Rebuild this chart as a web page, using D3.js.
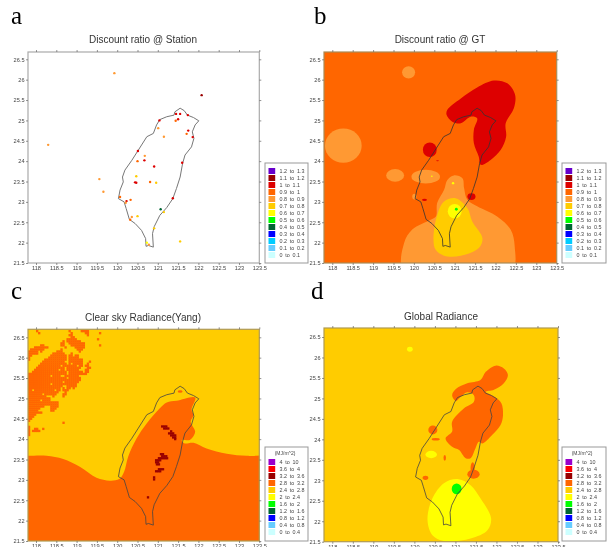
<!DOCTYPE html>
<html>
<head>
<meta charset="utf-8">
<script src="https://cdn.jsdelivr.net/npm/d3@7/dist/d3.min.js"></script>
<style>
  html, body { margin: 0; padding: 0; background: #fff; overflow: hidden; }
  svg { display: block; filter: blur(0.5px); }
</style>
</head>
<body>
<script>
// Data, everything in lon / lat
const lonTicks = [118, 118.5, 119, 119.5, 120, 120.5, 121, 121.5, 122, 122.5, 123, 123.5];
const latTicks = [21.5, 22, 22.5, 23, 23.5, 24, 24.5, 25, 25.5, 26, 26.5];

const ratioBreaks = [0.1, 0.2, 0.3, 0.4, 0.5, 0.6, 0.7, 0.8, 0.9, 1, 1.1, 1.2];
const ratioColors = ["#ccffff", "#66ccff", "#00ccff", "#0000ff", "#006633", "#00ff00", "#ffff00", "#ffcc00", "#ff9933", "#ff6600", "#dd0000", "#990000", "#6600cc"];
const ratioLabels = ["0 to 0.1", "0.1 to 0.2", "0.2 to 0.3", "0.3 to 0.4", "0.4 to 0.5", "0.5 to 0.6", "0.6 to 0.7", "0.7 to 0.8", "0.8 to 0.9", "0.9 to 1", "1 to 1.1", "1.1 to 1.2", "1.2 to 1.3"];

const radBreaks = [0.4, 0.8, 1.2, 1.6, 2, 2.4, 2.8, 3.2, 3.6, 4];
const radColors = ["#ccffff", "#66ccff", "#0000ff", "#006633", "#00ff00", "#ffff00", "#ffcc00", "#ff6600", "#990000", "#ff0000", "#9900cc"];
const radLabels = ["0 to 0.4", "0.4 to 0.8", "0.8 to 1.2", "1.2 to 1.6", "1.6 to 2", "2 to 2.4", "2.4 to 2.8", "2.8 to 3.2", "3.2 to 3.6", "3.6 to 4", "4 to 10"];

const coast = [[121.42,25.21],[121.55,25.3],[121.65,25.24],[121.73,25.13],[121.88,25.07],[122.01,24.99],[121.92,24.89],[121.85,24.72],[121.89,24.56],[121.83,24.35],[121.67,24.15],[121.61,23.94],[121.55,23.61],[121.46,23.33],[121.37,23.08],[121.22,22.86],[121.05,22.67],[120.91,22.39],[120.87,22.22],[120.89,21.89],[120.77,21.93],[120.71,21.91],[120.7,22.1],[120.6,22.3],[120.44,22.47],[120.3,22.57],[120.22,22.84],[120.17,23],[120.03,23.08],[120.07,23.29],[120.15,23.49],[120.13,23.61],[120.19,23.78],[120.36,24.02],[120.52,24.27],[120.73,24.6],[120.89,24.68],[120.97,24.89],[121.05,25.02],[121.22,25.09],[121.4,25.13]];

// lon, lat, ratio
const stations = [[119.93,26.16,0.85],[122.08,25.62,1.15],[118.3,24.4,0.85],[121.55,25.16,1.05],[121.45,25.16,1.05],[121.5,25.03,1.05],[121.44,24.99,0.95],[121.74,25.13,1.05],[121.04,25,1.05],[121.01,24.81,0.85],[121.15,24.6,0.85],[121.75,24.75,1.05],[121.71,24.67,0.95],[121.86,24.59,1.05],[120.51,24.25,1.05],[120.68,24.13,0.85],[120.67,24.02,1.05],[120.5,24,0.95],[120.91,23.87,1.05],[121.6,23.96,1.05],[120.47,23.63,0.75],[119.56,23.56,0.85],[120.44,23.48,1.05],[120.47,23.47,1.05],[120.81,23.49,0.95],[120.96,23.47,0.75],[119.66,23.25,0.85],[120.07,23.12,0.95],[120.23,23.02,1.05],[120.33,23.05,0.95],[120.21,22.98,0.85],[121.37,23.09,1.05],[121.07,22.82,0.45],[121.15,22.75,0.75],[120.36,22.63,0.85],[120.5,22.65,0.75],[120.32,22.56,0.95],[120.91,22.35,0.75],[121.55,22.03,0.75],[120.73,22,0.65],[120.78,21.95,0.85]];

// panel b zones
const gtNorthRed = [[120.82,25.26],[121.15,25.54],[121.55,25.81],[121.96,25.98],[122.29,25.91],[122.48,25.63],[122.45,25.3],[122.25,24.93],[122.26,24.6],[122.13,24.28],[121.88,24.03],[121.64,23.91],[121.59,24.11],[121.47,24.44],[121.47,24.77],[121.55,25.05],[121.39,25.09],[121.15,24.93],[120.94,24.97],[120.8,25.14]];
const gtSouthLight = [[119.76,21.3],[119.76,21.99],[119.96,22.32],[120.41,22.56],[120.54,22.64],[120.57,22.97],[120.74,23.3],[120.82,23.54],[120.98,23.65],[121.19,23.58],[121.23,23.34],[121.31,23.05],[121.55,22.89],[122.04,22.64],[122.37,22.32],[122.47,21.91],[122.39,21.3]];
const gtSouthGold = [[120.48,22.07],[120.56,22.64],[120.74,23.01],[121.02,23.09],[121.31,22.85],[121.43,22.52],[121.68,22.11],[121.59,21.87],[121.15,21.68],[120.74,21.68],[120.53,21.83]];
const gtEllipses = [
  [118.27,24.38,0.45,0.42,0.85],[119.87,26.18,0.16,0.15,0.85],[119.54,23.65,0.22,0.155,0.85],
  [120.29,23.62,0.35,0.17,0.85],[120.01,23.13,0.05,0.07,0.85],
  [120.39,24.28,0.17,0.18,1.05],[120.58,24.01,0.04,0.012,1.05],[121.41,23.13,0.1,0.085,1.05],[120.26,23.05,0.06,0.03,1.05],
  [121,22.77,0.17,0.18,0.65],[121.04,22.82,0.035,0.035,0.55],[120.96,23.46,0.03,0.03,0.65],[120.44,23.63,0.02,0.02,0.65]
];

// panel c zones
const clearSouth = [[117.5,23.59],[117.8,23.59],[118.26,23.59],[118.67,23.51],[119.08,23.32],[119.49,23.05],[119.82,22.98],[120.05,23.02],[120.17,23.2],[120.27,23.57],[120.48,24.02],[120.73,24.39],[121.05,24.76],[121.22,24.9],[121.46,24.94],[121.92,25.02],[121.83,24.72],[121.88,24.59],[121.81,24.43],[121.92,24.18],[121.79,23.98],[121.59,23.98],[121.65,23.9],[121.88,23.91],[122.2,23.77],[122.7,23.64],[123.19,23.59],[123.6,23.6],[124,23.6],[124,20.8],[117.5,20.8]];
const clearEllipses = [[121.55,25.17,0.06,0.03,3]];
// dark cells over the ridge in c, 0.05 deg each
const clearPeakCells = [
  [121.08,24.34],[121.13,24.34],[121.18,24.34],[121.13,24.29],[121.18,24.29],[121.23,24.29],
  [121.3,24.22],[121.25,24.17],[121.3,24.17],[121.35,24.17],[121.3,24.12],[121.35,24.12],[121.4,24.12],[121.35,24.07],[121.4,24.07],[121.4,24.03],
  [121.05,23.66],[121.1,23.66],[121.08,23.61],[121.13,23.61],[121.18,23.61],[121,23.56],[121.05,23.56],[121.1,23.56],[121.15,23.56],[121.2,23.56],
  [120.93,23.51],[120.98,23.51],[121.03,23.51],[120.93,23.46],[120.98,23.46],[120.95,23.41],[121,23.41],
  [121,23.29],[121.05,23.29],[121.1,23.29],[120.93,23.24],[120.98,23.24],[121.03,23.24],
  [120.88,23.09],[120.88,23.04],[120.73,22.6]
];
// patchy area top left of c, cells of 0.05 deg, # is 2.8 to 3.2
const clearPatchRows = [
  "....#...............#.....####......",
  ".....#...............#......##.....#",
  "....................##.......#......",
  ".....................##.............",
  "...................#####..........#.",
  ".................#.#######..........",
  "................##..########........",
  "......##........##...#######.......#",
  "...#######........#....#####........",
  ".#######........#.......###.........",
  "#####.#.......###........#..........",
  "#####.......######...#..............",
  "##.........########.##.##...........",
  "#.........#########.#####...........",
  "#.......###########.#######.........",
  ".......###########..#######...#.....",
  "......#############.#.#####..#......",
  ".....###########.#######.##.##......",
  "....##############.#######...##.....",
  "...############.##.######...##......",
  "..#################.#######.##......",
  "###################.#########.......",
  "###########.####..#######...........",
  "###################.######..........",
  "##########################..........",
  "#################.#######...........",
  "###########.############............",
  "#################..#####.............",
  "################.#.##.#.............",
  "##.##########.##.###................",
  "###############...#.................",
  "#######.######...##.................",
  "#########...#....#..................",
  "###########.........................",
  "######.####.........................",
  "###############.....................",
  "###############.....................",
  "########...####.....................",
  "######.....###......................",
  "#####......##.......................",
  "#######.............................",
  "####................................",
  "###.................................",
  "##..................................",
  "#...................................",
  ".................#..................",
  "....................................",
  "#...................................",
  "#..##..#............................",
  "#.####..............................",
  "#...................................",
  "#..................................."
];

// panel d zones
const globalNorth = [[120.92,25.08],[121.01,25.23],[121.29,25.37],[121.61,25.45],[121.74,25.65],[121.98,25.8],[122.18,25.73],[122.28,25.57],[122.18,25.37],[121.94,25.21],[121.74,25.16],[121.98,25.02],[122.12,24.88],[122.16,24.59],[122.1,24.35],[121.9,24.11],[121.66,23.9],[121.57,23.94],[121.49,23.78],[121.37,23.54],[121.25,23.54],[121.09,23.74],[120.92,23.82],[120.76,24.02],[120.92,24.19],[120.92,24.43],[121.21,24.76],[121.45,24.92],[121.45,25.08],[121.29,25.15],[121.13,25.04],[121.01,24.94]];
const globalSouth = [[120.32,22.03],[120.44,22.56],[120.72,22.93],[121.05,23.03],[121.37,22.88],[121.61,22.56],[121.87,22.07],[121.78,21.78],[121.37,21.58],[120.72,21.52],[120.44,21.66]];
const globalEllipses = [
  [120.45,24.23,0.11,0.11,3],[120.27,23.06,0.07,0.05,3],[121.44,23.15,0.15,0.11,3],[121.42,23.3,0.05,0.14,3],
  [120.74,23.55,0.03,0.07,3],[120.52,24,0.1,0.03,3],
  [120.41,23.63,0.14,0.09,2.2],[119.89,26.2,0.07,0.06,2.2],
  [121.03,22.79,0.12,0.13,1.8]
];

// Helpers
const svgwidth = 608;
const svgheight = 547;
const ratioColor = d3.scaleThreshold().domain(ratioBreaks).range(ratioColors);
const radColor = d3.scaleThreshold().domain(radBreaks).range(radColors);
const zoneLine = d3.line().curve(d3.curveCatmullRomClosed.alpha(0.5));

const svg = d3.select("body").append("svg")
    .attr("width", svgwidth)
    .attr("height", svgheight);

function drawAxes(g, p, x, y) {
    const axes = [
        [d3.axisBottom(x).tickValues(lonTicks).tickFormat(d3.format("")), `translate(0,${p.bottom})`],
        [d3.axisTop(x).tickValues(lonTicks).tickFormat(""), `translate(0,${p.top})`],
        [d3.axisLeft(y).tickValues(latTicks).tickFormat(d3.format("")), `translate(${p.left},0)`],
        [d3.axisRight(y).tickValues(latTicks).tickFormat(""), `translate(${p.right},0)`]
    ];
    axes.forEach(a => {
        const ag = g.append("g").attr("transform", a[1])
            .call(a[0].tickSize(2).tickPadding(1.5));
        ag.select(".domain").remove();
        ag.selectAll("line").attr("stroke", "#666").attr("stroke-width", 0.7);
        ag.selectAll("text").attr("fill", "#444").attr("font-size", 5.6)
            .attr("font-family", "'Liberation Sans', Arial, sans-serif");
    });
}

function drawLegend(p, labels, colors, unit) {
    const lg = svg.append("g");
    lg.append("rect")
        .attr("x", p.legX).attr("y", p.legTop)
        .attr("width", p.legW).attr("height", p.legBottom - p.legTop)
        .attr("fill", "#fff").attr("stroke", "#999").attr("stroke-width", 1);
    if (unit) {
        lg.append("text")
            .attr("x", p.legX + 20).attr("y", p.legTop + 8)
            .attr("text-anchor", "middle").attr("font-size", 5).attr("fill", "#444")
            .attr("font-family", "'Liberation Sans', Arial, sans-serif")
            .text(unit);
    }
    const rows = labels.map((d, i) => ({ label: d, color: colors[i], row: labels.length - 1 - i }));
    const rowY = d3.scaleLinear().domain([0, 1]).range([p.legFirst, p.legFirst + 7]);
    const item = lg.selectAll(".item").data(rows).enter().append("g")
        .attr("class", "item")
        .attr("transform", d => `translate(${p.legX + 3.5},${rowY(d.row)})`);
    item.append("rect")
        .attr("y", -3).attr("width", 6.7).attr("height", 6)
        .attr("fill", d => d.color);
    item.append("text")
        .attr("x", 11).attr("y", 2).attr("font-size", 5.4)
        .attr("word-spacing", 1.3).attr("fill", "#444")
        .attr("font-family", "'Liberation Sans', Arial, sans-serif")
        .text(d => d.label);
}

function drawPanel(p) {
    const x = d3.scaleLinear().domain([118, 123.5]).range([p.x118, p.x1235]);
    const y = d3.scaleLinear().domain([21.5, 26.5]).range([p.bottom, p.y265]);
    const ring = pts => zoneLine(pts.map(d => [x(d[0]), y(d[1])]));
    const cellW = x(0.05) - x(0) + 0.3;
    const cellH = y(0) - y(0.05) + 0.3;

    svg.append("clipPath").attr("id", "clip-" + p.id)
        .append("rect")
        .attr("x", p.left).attr("y", p.top)
        .attr("width", p.right - p.left).attr("height", p.bottom - p.top);

    const g = svg.append("g");
    const map = g.append("g").attr("clip-path", `url(#clip-${p.id})`);

    map.append("rect")
        .attr("x", p.left).attr("y", p.top)
        .attr("width", p.right - p.left).attr("height", p.bottom - p.top)
        .attr("fill", p.background == null ? "#fff" : p.color(p.background));

    (p.zones || []).forEach(z => {
        map.append("path").attr("d", ring(z.ring)).attr("fill", p.color(z.value));
    });

    // patch cells for c
    if (p.patchRows) {
        const cells = [];
        p.patchRows.forEach((row, r) => {
            row.split("").forEach((c, k) => {
                if (c === "#") cells.push({ lon: 117.8 + k * 0.05, lat: 26.68 - r * 0.05 });
            });
        });
        map.selectAll(".patch").data(cells).enter().append("rect")
            .attr("class", "patch")
            .attr("x", d => x(d.lon))
            .attr("y", d => y(d.lat))
            .attr("width", cellW)
            .attr("height", cellH)
            .attr("fill", p.color(3));
    }

    map.selectAll(".blob").data(p.ellipses || []).enter().append("ellipse")
        .attr("class", "blob")
        .attr("cx", d => x(d[0]))
        .attr("cy", d => y(d[1]))
        .attr("rx", d => x(d[0] + d[2]) - x(d[0]))
        .attr("ry", d => y(d[1]) - y(d[1] + d[3]))
        .attr("fill", d => p.color(d[4]));

    map.selectAll(".peak").data(p.peaks || []).enter().append("rect")
        .attr("class", "peak")
        .attr("x", d => x(d[0]))
        .attr("y", d => y(d[1]))
        .attr("width", cellW)
        .attr("height", cellH)
        .attr("fill", p.color(3.4));

    map.append("path")
        .attr("d", d3.line()(coast.concat([coast[0]]).map(d => [x(d[0]), y(d[1])])))
        .attr("fill", "none")
        .attr("stroke", p.coastColor)
        .attr("stroke-width", p.coastWidth);

    if (p.points) {
        map.selectAll(".station").data(p.points).enter().append("circle")
            .attr("class", "station")
            .attr("cx", d => x(d[0]))
            .attr("cy", d => y(d[1]))
            .attr("r", 1.2)
            .attr("fill", d => p.color(d[2]));
    }

    g.append("rect")
        .attr("x", p.left).attr("y", p.top)
        .attr("width", p.right - p.left).attr("height", p.bottom - p.top)
        .attr("fill", "none").attr("stroke", p.frame).attr("stroke-width", 1.2);

    drawAxes(g, p, x, y);

    g.append("text")
        .attr("x", p.titleX).attr("y", p.titleY)
        .attr("text-anchor", "middle").attr("font-size", 10).attr("fill", "#333")
        .attr("font-family", "'Liberation Sans', Arial, sans-serif")
        .text(p.title);

    g.append("text")
        .attr("x", p.letterX).attr("y", p.letterY)
        .attr("font-size", 25).attr("fill", "#000")
        .attr("font-family", "'Liberation Serif', 'Times New Roman', serif")
        .text(p.letter);
}

// Main
const panels = [
    { id: "a", letter: "a", title: "Discount ratio @ Station", color: ratioColor, labels: ratioLabels, colors: ratioColors,
      left: 28, right: 259.3, top: 52, bottom: 263, x118: 36, x1235: 259.3, y265: 59.3,
      titleX: 143, titleY: 43, letterX: 11, letterY: 24,
      legX: 265, legW: 43, legTop: 163, legBottom: 263, legFirst: 171,
      points: stations, coastColor: "#777", coastWidth: 1, frame: "#aaa" },
    { id: "b", letter: "b", title: "Discount ratio @ GT", color: ratioColor, labels: ratioLabels, colors: ratioColors,
      left: 324, right: 556.7, top: 52, bottom: 263, x118: 332.3, x1235: 556.7, y265: 59.3,
      titleX: 440, titleY: 43, letterX: 314, letterY: 24,
      legX: 562, legW: 44, legTop: 163, legBottom: 263, legFirst: 171,
      background: 0.95,
      zones: [{ ring: gtSouthLight, value: 0.85 }, { ring: gtSouthGold, value: 0.75 }, { ring: gtNorthRed, value: 1.05 }],
      ellipses: gtEllipses, coastColor: "#333", coastWidth: 0.8, frame: "#a98a55" },
    { id: "c", letter: "c", title: "Clear sky Radiance(Yang)", color: radColor, labels: radLabels, colors: radColors,
      left: 28, right: 259.3, top: 329.3, bottom: 541, x118: 36, x1235: 259.3, y265: 337.3,
      titleX: 143, titleY: 321, letterX: 11, letterY: 299, unit: "(MJ/m^2)",
      legX: 265, legW: 43, legTop: 447, legBottom: 541, legFirst: 462,
      background: 2.6,
      zones: [{ ring: clearSouth, value: 3 }],
      patchRows: clearPatchRows, peaks: clearPeakCells,
      ellipses: clearEllipses, coastColor: "#444", coastWidth: 0.8, frame: "#b09a50" },
    { id: "d", letter: "d", title: "Global Radiance", color: radColor, labels: radLabels, colors: radColors,
      left: 324, right: 558, top: 328, bottom: 541.7, x118: 332.3, x1235: 558, y265: 337,
      titleX: 441, titleY: 320, letterX: 311, letterY: 299, unit: "(MJ/m^2)",
      legX: 562, legW: 44, legTop: 447, legBottom: 541, legFirst: 462,
      background: 2.6,
      zones: [{ ring: globalNorth, value: 3 }, { ring: globalSouth, value: 2.2 }],
      ellipses: globalEllipses, coastColor: "#444", coastWidth: 0.8, frame: "#b09a50" }
];

panels.forEach(p => {
    drawPanel(p);
    drawLegend(p, p.labels, p.colors, p.unit);
});
</script>
</body>
</html>
